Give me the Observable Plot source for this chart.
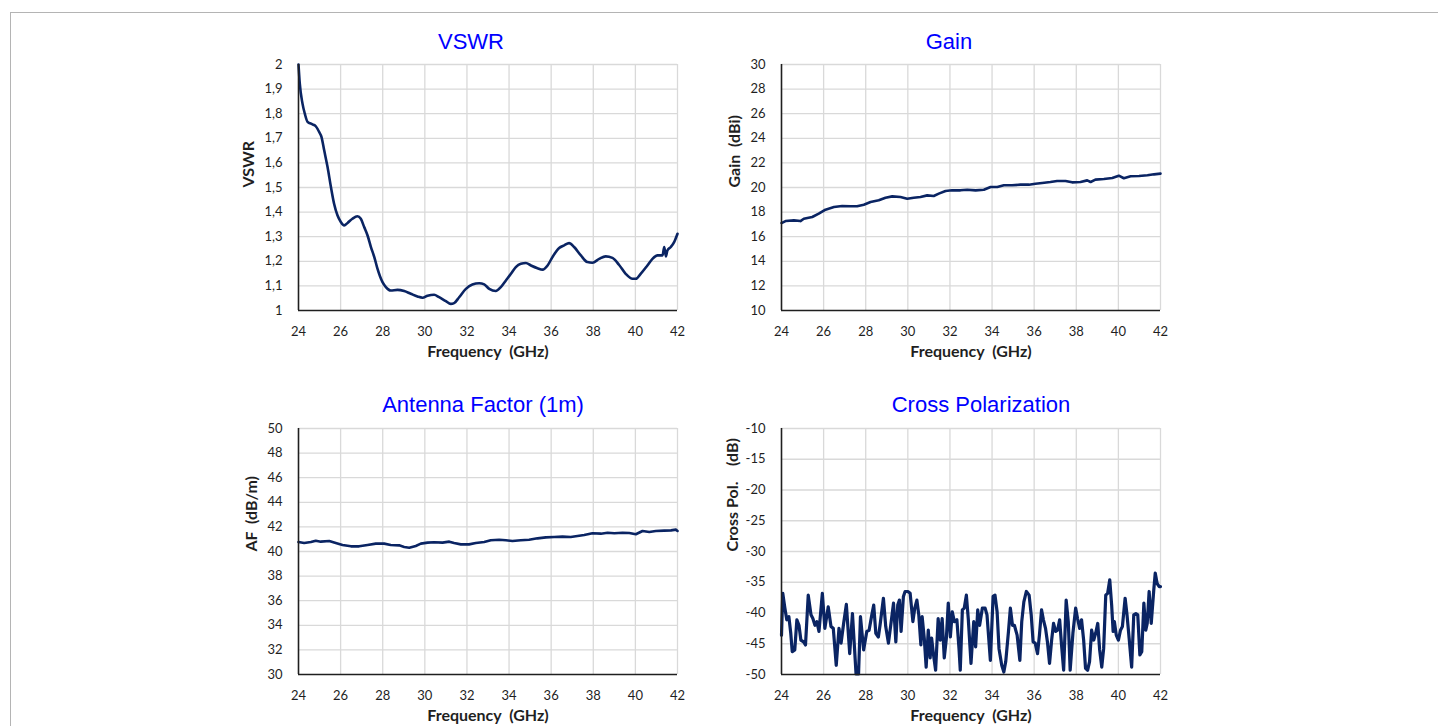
<!DOCTYPE html>
<html><head><meta charset="utf-8">
<script src="https://cdn.jsdelivr.net/npm/d3@7"></script>
<script src="https://cdn.jsdelivr.net/npm/@observablehq/plot@0.6"></script>
<style>
html,body{margin:0;padding:0;background:#fff;overflow:hidden;width:1438px;height:726px;position:relative;}
#frame{position:absolute;left:10px;top:12px;right:0;bottom:-10px;border-top:1.5px solid #b4b4b4;border-left:1.5px solid #b4b4b4;}
.panel{position:absolute;}
.title{position:absolute;width:400px;text-align:center;font-family:"Liberation Sans",Arial,sans-serif;font-size:22px;line-height:22px;color:#0000ff;white-space:nowrap;}
</style></head><body>
<div id="frame"></div>
<div id="root"></div>
<script>
// ---- shared axis ----
const freqTicks = [24, 26, 28, 30, 32, 34, 36, 38, 40, 42];

// ---- VSWR ----
const vswrTicks = [1, 1.1, 1.2, 1.3, 1.4, 1.5, 1.6, 1.7, 1.8, 1.9, 2];
const vswrFreq = [24,24.06,24.19,24.3,24.43,24.66,24.82,24.98,25.09,25.22,25.38,25.54,25.69,25.85,26.01,26.17,26.33,26.56,26.8,26.96,27.12,27.28,27.44,27.6,27.75,27.99,28.15,28.38,28.7,29.02,29.33,29.65,29.89,30.13,30.44,30.68,31.0,31.23,31.39,31.63,31.95,32.26,32.58,32.82,33.06,33.37,33.61,33.85,34.09,34.32,34.56,34.8,35.04,35.35,35.59,35.83,36.06,36.38,36.62,36.85,37.09,37.41,37.72,37.96,38.28,38.59,38.91,39.22,39.54,39.86,40.02,40.25,40.57,40.81,41.05,41.29,41.37,41.45,41.52,41.68,41.84,42];
const vswrValues = [2.0,1.923,1.841,1.8,1.767,1.757,1.749,1.726,1.706,1.651,1.583,1.502,1.434,1.387,1.36,1.346,1.356,1.373,1.383,1.373,1.339,1.305,1.258,1.217,1.17,1.115,1.095,1.081,1.084,1.079,1.068,1.057,1.052,1.06,1.064,1.054,1.038,1.027,1.03,1.054,1.088,1.106,1.111,1.106,1.088,1.079,1.095,1.122,1.149,1.176,1.19,1.193,1.183,1.172,1.166,1.183,1.217,1.254,1.265,1.274,1.258,1.224,1.197,1.194,1.21,1.22,1.214,1.186,1.149,1.129,1.129,1.149,1.183,1.21,1.224,1.224,1.258,1.22,1.244,1.258,1.278,1.312];

// ---- Gain ----
const gainTicks = [10, 12, 14, 16, 18, 20, 22, 24, 26, 28, 30];
const gainFreq = [24,24.19,24.59,24.9,25.06,25.46,25.77,26.09,26.49,26.88,27.28,27.59,27.91,28.23,28.62,28.94,29.26,29.65,29.97,30.28,30.6,30.92,31.23,31.47,31.79,32.1,32.5,32.82,33.22,33.61,33.93,34.25,34.56,34.95,35.35,35.75,36.06,36.38,36.77,37.09,37.49,37.8,38.2,38.52,38.68,38.91,39.31,39.71,40.02,40.26,40.58,40.98,41.38,41.69,42];
const gainValues = [17.11,17.27,17.33,17.27,17.46,17.6,17.87,18.2,18.41,18.49,18.47,18.47,18.6,18.82,18.96,19.17,19.28,19.23,19.09,19.17,19.23,19.36,19.31,19.5,19.72,19.77,19.77,19.82,19.77,19.82,20.04,20.04,20.18,20.18,20.23,20.23,20.31,20.37,20.45,20.53,20.53,20.42,20.45,20.58,20.45,20.64,20.69,20.77,20.96,20.75,20.91,20.94,20.99,21.07,21.13];

// ---- Antenna Factor ----
const afTicks = [30, 32, 34, 36, 38, 40, 42, 44, 46, 48, 50];
const afFreq = [24,24.27,24.59,24.82,25.06,25.46,25.77,26.09,26.49,26.88,27.28,27.67,28.07,28.38,28.78,29.02,29.26,29.57,29.81,30.13,30.44,30.84,31.16,31.39,31.71,32.1,32.42,32.82,33.13,33.53,33.85,34.16,34.56,34.95,35.35,35.75,36.14,36.54,36.93,37.25,37.57,37.96,38.36,38.68,39.0,39.39,39.71,40.02,40.34,40.66,40.97,41.37,41.69,41.92,42];
const afValues = [40.77,40.69,40.77,40.88,40.8,40.85,40.69,40.53,40.42,40.42,40.53,40.64,40.64,40.53,40.5,40.37,40.31,40.45,40.64,40.72,40.75,40.72,40.8,40.69,40.58,40.58,40.69,40.77,40.91,40.96,40.91,40.85,40.91,40.96,41.07,41.15,41.18,41.21,41.18,41.26,41.34,41.48,41.45,41.53,41.48,41.53,41.5,41.4,41.67,41.59,41.67,41.7,41.72,41.78,41.67];

// ---- Cross Polarization ----
const xpTicks = [-50, -45, -40, -35, -30, -25, -20, -15, -10];
const xpFreq = [24.0,24.06,24.16,24.25,24.35,24.44,24.51,24.63,24.73,24.83,24.92,25.05,25.14,25.27,25.4,25.49,25.59,25.68,25.78,25.94,26.06,26.22,26.35,26.46,26.6,26.73,26.83,26.95,27.08,27.24,27.37,27.54,27.66,27.75,27.9,28.05,28.16,28.29,28.38,28.48,28.6,28.68,28.84,28.95,29.08,29.21,29.32,29.43,29.52,29.6,29.68,29.79,29.87,30.0,30.11,
30.24,30.33,30.43,30.52,30.62,30.68,30.78,30.87,30.97,31.06,31.13,31.22,31.32,31.44,31.54,31.63,31.73,31.83,31.92,32.02,32.11,32.21,32.33,32.43,32.49,32.59,32.68,32.78,32.87,33.0,33.13,33.22,33.32,33.41,33.54,33.67,33.76,33.92,34.05,34.14,34.24,34.33,34.46,34.56,34.65,34.78,34.87,34.97,35.06,35.19,35.32,35.41,35.51,35.63,35.76,35.86,35.95,36.05,
36.16,36.25,36.35,36.44,36.54,36.63,36.73,36.83,36.92,37.02,37.11,37.21,37.3,37.4,37.52,37.62,37.71,37.84,37.97,38.06,38.16,38.25,38.35,38.44,38.54,38.63,38.73,38.83,38.92,39.02,39.11,39.21,39.3,39.4,39.49,39.59,39.68,39.75,39.81,39.9,40.0,40.1,40.19,40.32,40.41,40.51,40.63,40.73,40.83,40.92,41.02,41.11,41.21,41.3,41.37,41.46,41.56,41.68,41.75,41.84,41.94,42.0];
const xpValues = [-43.6,-36.8,-39.2,-41.1,-40.6,-43.3,-46.3,-46.0,-41.1,-42.0,-44.4,-44.7,-45.2,-37.1,-40.3,-40.9,-42.0,-41.4,-43.0,-36.8,-42.5,-39.0,-42.2,-42.5,-48.5,-42.5,-44.9,-41.7,-38.6,-46.6,-40.1,-49.9,-49.9,-40.6,-46.0,-43.0,-42.8,-40.3,-38.7,-43.3,-43.9,-42.0,-37.6,-42.2,-44.9,-41.4,-38.4,-44.7,-38.7,-37.9,-43.0,-37.3,-36.5,-36.5,-36.8,
-41.4,-39.2,-37.9,-40.3,-45.2,-40.6,-44.1,-48.8,-42.8,-47.3,-44.1,-46.8,-49.3,-40.9,-44.4,-40.9,-47.3,-44.1,-38.4,-43.9,-39.8,-41.4,-41.1,-45.8,-49.3,-39.5,-39.2,-37.1,-40.9,-48.2,-41.4,-45.5,-39.5,-42.0,-39.2,-39.2,-40.3,-47.7,-37.3,-37.1,-39.8,-45.8,-48.5,-49.6,-47.9,-43.0,-39.2,-42.0,-42.0,-43.6,-47.7,-41.4,-38.2,-36.5,-37.1,-40.3,-44.7,-44.9,
-46.6,-43.6,-39.5,-41.1,-42.5,-44.7,-48.2,-44.4,-41.7,-43.0,-42.8,-41.1,-45.2,-49.3,-37.9,-41.4,-49.3,-43.3,-39.2,-40.9,-42.5,-41.1,-44.4,-49.0,-49.3,-47.9,-42.8,-44.4,-43.3,-41.7,-46.0,-48.8,-45.8,-37.1,-36.8,-34.6,-38.7,-43.0,-41.4,-43.6,-44.4,-42.8,-42.2,-37.6,-40.3,-44.1,-48.8,-40.3,-40.1,-40.3,-46.8,-46.3,-38.4,-42.8,-41.7,-36.5,-41.7,-36.3,-33.5,-35.2,-35.7,-35.7];

const zip = (fs, vs) => fs.slice(0, Math.min(fs.length, vs.length)).map((f, i) => ({f, v: vs[i]}));
const commaFmt = d => String(+d.toFixed(1)).replace(".", ",");

const NB = "\u00a0";
const panels = [
  {left: 218, top: 54.3, title: "VSWR", titleCenter: 471, titleTop: 31.4,
   ticks: vswrTicks, fmt: commaFmt, data: zip(vswrFreq, vswrValues), ylabel: "VSWR", labelDx: -50, sw: 2.6, curve: "monotone-x"},
  {left: 701, top: 54.3, title: "Gain", titleCenter: 949, titleTop: 31.4,
   ticks: gainTicks, fmt: d => String(d), data: zip(gainFreq, gainValues), ylabel: "Gain" + NB + NB + "(dBi)", labelDx: -47, sw: 2.6, curve: "linear"},
  {left: 218, top: 417.7, title: "Antenna Factor (1m)", titleCenter: 483, titleTop: 394.4,
   ticks: afTicks, fmt: d => String(d), data: zip(afFreq, afValues), ylabel: "AF" + NB + NB + "(dB/m)", labelDx: -47, sw: 2.6, curve: "linear"},
  {left: 701, top: 417.7, title: "Cross Polarization", titleCenter: 981, titleTop: 394.4,
   ticks: xpTicks, fmt: d => String(d), data: zip(xpFreq, xpValues), ylabel: "Cross Pol." + NB + NB + NB + NB + "(dB)", labelDx: -49, sw: 3.2, curve: "linear"}
];

const root = document.getElementById("root");
const ink = "#1f1f1f";
for (const p of panels) {
  const yDomain = [p.ticks[0], p.ticks[p.ticks.length - 1]];
  const chart = Plot.plot({
    width: 479, height: 316,
    marginLeft: 80, marginRight: 20, marginTop: 10, marginBottom: 60,
    x: {domain: [24, 42]},
    y: {domain: yDomain},
    style: {fontFamily: "Lato, 'Open Sans', sans-serif", fontSize: "13px", color: ink, background: "transparent", overflow: "visible"},
    marks: [
      Plot.ruleX(freqTicks.slice(1), {stroke: "#d9d9d9", strokeWidth: 1.3}),
      Plot.ruleY(p.ticks.slice(1), {stroke: "#d9d9d9", strokeWidth: 1.3}),
      Plot.line(p.data, {x: "f", y: "v", stroke: "#0a2463", strokeWidth: p.sw, curve: p.curve, strokeLinejoin: "round"}),
      Plot.ruleX([24], {stroke: ink, strokeWidth: 1.6}),
      Plot.ruleY([yDomain[0]], {stroke: ink, strokeWidth: 1.6}),
      Plot.axisX(freqTicks, {tickSize: 0, tickPadding: 16, label: null, fontSize: 13, fill: ink}),
      Plot.axisY(p.ticks, {tickSize: 0, tickPadding: 16, label: null, tickFormat: p.fmt, fontSize: 13, fill: ink}),
      Plot.text(["Frequency" + NB + NB + "(GHz)"], {text: d => d, frameAnchor: "bottom", dy: 46, fontWeight: "bold", fontSize: 16, fill: ink}),
      Plot.text([p.ylabel], {text: d => d, frameAnchor: "left", dx: p.labelDx, rotate: -90, fontWeight: "bold", fontSize: 16, fill: ink})
    ]
  });
  const wrap = document.createElement("div");
  wrap.className = "panel";
  wrap.style.left = p.left + "px";
  wrap.style.top = p.top + "px";
  wrap.appendChild(chart);
  root.appendChild(wrap);

  const t = document.createElement("div");
  t.className = "title";
  t.textContent = p.title;
  t.style.left = (p.titleCenter - 200) + "px";
  t.style.top = p.titleTop + "px";
  root.appendChild(t);
}
</script>
</body></html>
